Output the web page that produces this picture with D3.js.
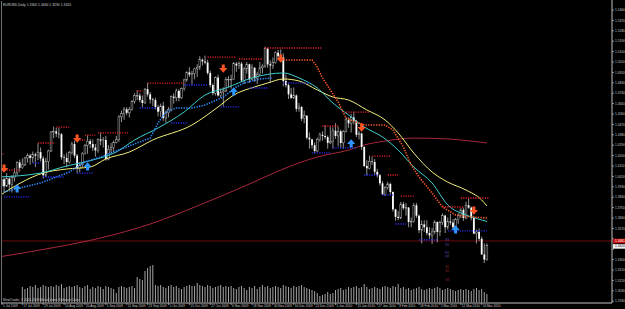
<!DOCTYPE html><html><head><meta charset="UTF-8"><script src="https://d3js.org/d3.v7.min.js"></script><style>
body { margin: 0; background: #000; }
#chart { width: 625px; height: 309px; }
text { font-family: "Liberation Sans", Arial, sans-serif; }
</style></head><body><div id="chart"></div><script>
// daily EURUSD bars, 6 Jul 2009 .. 26 Mar 2010 (bar 0 = 6 Jul)
const opens = [
 1.4020,1.3935,1.3995,1.3935,1.4000,1.3950,1.4010,1.4050,1.4140,1.4095,
 1.4120,1.4180,1.4200,1.4180,1.4210,1.4200,1.4230,1.4175,1.4030,1.4150,
 1.4240,1.4405,1.4410,1.4390,1.4385,1.4185,1.4180,1.4145,1.4225,1.4300,
 1.4200,1.4090,1.4120,1.4215,1.4290,1.4325,1.4300,1.4270,1.4245,1.4340,
 1.4330,1.4335,1.4170,1.4255,1.4270,1.4315,1.4340,1.4535,1.4565,1.4600,
 1.4570,1.4600,1.4670,1.4720,1.4720,1.4680,1.4655,1.4775,1.4730,1.4685,
 1.4680,1.4620,1.4580,1.4630,1.4525,1.4570,1.4600,1.4710,1.4700,1.4760,
 1.4700,1.4780,1.4855,1.4920,1.4900,1.4910,1.4950,1.4965,1.5030,1.5015,
 1.5005,1.4915,1.4810,1.4740,1.4875,1.4720,1.4750,1.4760,1.4860,1.4860,
 1.4860,1.4995,1.4980,1.4995,1.4850,1.4950,1.4990,1.4860,1.4960,1.4870,
 1.4900,1.4960,1.4975,1.5125,1.4990,1.4980,1.5005,1.5090,1.5060,1.5050,
 1.4845,1.4810,1.4730,1.4700,1.4720,1.4605,1.4620,1.4520,1.4545,1.4355,
 1.4340,1.4290,1.4240,1.4340,1.4380,1.4370,1.4360,1.4310,1.4320,1.4415,
 1.4370,1.4410,1.4310,1.4410,1.4510,1.4480,1.4530,1.4500,1.4380,1.4390,
 1.4275,1.4110,1.4090,1.4150,1.4145,1.4060,1.4030,1.3960,1.3865,1.3925,
 1.3955,1.3885,1.3735,1.3670,1.3660,1.3780,1.3745,1.3750,1.3625,1.3630,
 1.3770,1.3680,1.3555,1.3605,1.3580,1.3530,1.3510,1.3540,1.3625,1.3540,
 1.3620,1.3680,1.3580,1.3630,1.3620,1.3580,1.3645,1.3680,1.3730,1.3660,
 1.3770,1.3750,1.3660,1.3525,1.3540,1.3480,1.3345,1.3300];
const highs = [
 1.4035,1.4050,1.4010,1.4050,1.4020,1.4030,1.4090,1.4150,1.4165,1.4175,
 1.4190,1.4220,1.4215,1.4235,1.4225,1.4305,1.4270,1.4195,1.4180,1.4250,
 1.4410,1.4450,1.4440,1.4440,1.4395,1.4210,1.4225,1.4240,1.4320,1.4330,
 1.4215,1.4145,1.4230,1.4300,1.4375,1.4345,1.4340,1.4300,1.4350,1.4398,
 1.4360,1.4370,1.4290,1.4310,1.4330,1.4370,1.4550,1.4590,1.4620,1.4620,
 1.4620,1.4680,1.4740,1.4765,1.4740,1.4720,1.4785,1.4830,1.4750,1.4700,
 1.4700,1.4640,1.4650,1.4665,1.4590,1.4620,1.4720,1.4740,1.4780,1.4775,
 1.4790,1.4865,1.4930,1.4965,1.4935,1.4960,1.4990,1.5060,1.5040,1.5065,
 1.5030,1.4935,1.4825,1.4885,1.4900,1.4780,1.4790,1.4880,1.4890,1.4900,
 1.5010,1.5010,1.5015,1.5010,1.4965,1.5010,1.4995,1.4990,1.4965,1.4925,
 1.5010,1.4990,1.5144,1.5135,1.5025,1.5050,1.5100,1.5115,1.5120,1.5085,
 1.4900,1.4830,1.4785,1.4790,1.4730,1.4655,1.4630,1.4590,1.4550,1.4400,
 1.4345,1.4315,1.4355,1.4400,1.4410,1.4465,1.4375,1.4450,1.4445,1.4480,
 1.4450,1.4425,1.4420,1.4530,1.4530,1.4560,1.4580,1.4510,1.4415,1.4400,
 1.4280,1.4160,1.4200,1.4190,1.4170,1.4085,1.4040,1.3980,1.3935,1.3975,
 1.3965,1.3890,1.3740,1.3720,1.3800,1.3800,1.3790,1.3755,1.3665,1.3790,
 1.3790,1.3690,1.3640,1.3640,1.3640,1.3580,1.3575,1.3640,1.3630,1.3635,
 1.3700,1.3690,1.3665,1.3695,1.3650,1.3660,1.3700,1.3745,1.3750,1.3800,
 1.3830,1.3760,1.3680,1.3560,1.3570,1.3500,1.3440,1.3440];
const lows = [
 1.3885,1.3920,1.3880,1.3930,1.3905,1.3880,1.3975,1.4030,1.4060,1.4085,
 1.4110,1.4140,1.4120,1.4140,1.4100,1.4160,1.4150,1.4000,1.4015,1.4080,
 1.4230,1.4350,1.4360,1.4350,1.4165,1.4125,1.4100,1.4130,1.4210,1.4180,
 1.4045,1.4055,1.4095,1.4210,1.4215,1.4265,1.4240,1.4190,1.4225,1.4290,
 1.4270,1.4155,1.4160,1.4215,1.4230,1.4305,1.4320,1.4490,1.4510,1.4550,
 1.4530,1.4590,1.4650,1.4680,1.4660,1.4620,1.4650,1.4710,1.4650,1.4630,
 1.4600,1.4540,1.4535,1.4500,1.4485,1.4530,1.4580,1.4650,1.4670,1.4670,
 1.4690,1.4760,1.4840,1.4880,1.4815,1.4860,1.4880,1.4940,1.4980,1.4990,
 1.4900,1.4790,1.4720,1.4720,1.4710,1.4700,1.4625,1.4750,1.4790,1.4780,
 1.4855,1.4925,1.4950,1.4840,1.4820,1.4910,1.4830,1.4850,1.4840,1.4820,
 1.4890,1.4910,1.4960,1.4960,1.4830,1.4950,1.4995,1.5025,1.5030,1.4800,
 1.4790,1.4690,1.4690,1.4690,1.4580,1.4580,1.4500,1.4480,1.4340,1.4260,
 1.4260,1.4220,1.4230,1.4320,1.4330,1.4340,1.4260,1.4300,1.4260,1.4345,
 1.4280,1.4265,1.4260,1.4400,1.4440,1.4400,1.4470,1.4360,1.4340,1.4250,
 1.4100,1.4030,1.4080,1.4120,1.4030,1.4010,1.3940,1.3860,1.3850,1.3905,
 1.3860,1.3715,1.3635,1.3640,1.3650,1.3730,1.3680,1.3580,1.3580,1.3620,
 1.3660,1.3530,1.3440,1.3540,1.3510,1.3480,1.3435,1.3520,1.3450,1.3505,
 1.3600,1.3530,1.3560,1.3600,1.3560,1.3570,1.3610,1.3660,1.3635,1.3650,
 1.3740,1.3640,1.3520,1.3440,1.3460,1.3340,1.3270,1.3290];
const closes = [
 1.3935,1.3995,1.3935,1.4000,1.3950,1.4010,1.4050,1.4140,1.4095,1.4120,
 1.4180,1.4200,1.4180,1.4210,1.4200,1.4230,1.4175,1.4030,1.4150,1.4240,
 1.4405,1.4410,1.4390,1.4385,1.4185,1.4180,1.4145,1.4225,1.4300,1.4200,
 1.4090,1.4120,1.4215,1.4290,1.4325,1.4300,1.4270,1.4245,1.4340,1.4330,
 1.4335,1.4170,1.4255,1.4270,1.4315,1.4340,1.4535,1.4565,1.4600,1.4570,
 1.4600,1.4670,1.4720,1.4720,1.4680,1.4655,1.4775,1.4730,1.4685,1.4680,
 1.4620,1.4580,1.4630,1.4525,1.4570,1.4600,1.4710,1.4700,1.4760,1.4700,
 1.4780,1.4855,1.4920,1.4900,1.4910,1.4950,1.4965,1.5030,1.5015,1.5005,
 1.4915,1.4810,1.4740,1.4875,1.4720,1.4750,1.4760,1.4860,1.4860,1.4860,
 1.4995,1.4980,1.4995,1.4850,1.4950,1.4990,1.4860,1.4960,1.4870,1.4900,
 1.4960,1.4975,1.5125,1.4990,1.4980,1.5005,1.5090,1.5060,1.5050,1.4845,
 1.4810,1.4730,1.4700,1.4720,1.4605,1.4620,1.4520,1.4545,1.4355,1.4340,
 1.4290,1.4240,1.4340,1.4380,1.4370,1.4360,1.4310,1.4320,1.4415,1.4370,
 1.4410,1.4310,1.4410,1.4510,1.4480,1.4530,1.4500,1.4380,1.4390,1.4275,
 1.4110,1.4090,1.4150,1.4145,1.4060,1.4030,1.3960,1.3865,1.3925,1.3955,
 1.3885,1.3735,1.3670,1.3660,1.3780,1.3745,1.3750,1.3625,1.3630,1.3770,
 1.3680,1.3555,1.3605,1.3580,1.3530,1.3510,1.3540,1.3625,1.3540,1.3620,
 1.3680,1.3580,1.3630,1.3620,1.3580,1.3645,1.3680,1.3730,1.3660,1.3770,
 1.3750,1.3660,1.3525,1.3540,1.3480,1.3345,1.3300,1.3420];

// tick volume (thousands), starting at bar 9 (17 Jul)
const volStart = 9;
const volumes = [
 15,13,14,16,15,17,14,15,17,16, 15,16,15,17,16,18,14,15,16,15,
 16,17,15,14,16,17,13,15,14,16, 15,13,16,15,14,13,9,15,16,15,
 14,15,16,14,25,23,22,31,34,36, 37,17,16,17,15,14,16,17,15,16,
 14,13,15,16,17,16,16,19,17,16, 15,17,16,14,15,16,17,15,16,15,
 16,14,13,15,16,14,12,15,14,16, 13,15,17,15,16,14,15,16,15,14,
 17,16,15,14,16,15,16,17,15,14, 13,12,11,9,6,7,8,10,8,9,
 12,13,14,12,13,15,14,15,16,14, 15,18,15,13,14,15,14,13,15,16,
 15,14,16,15,18,14,15,13,14,12, 13,14,15,13,12,13,14,13,14,15,
 14,12,13,14,13,12,11,12,13,12, 13,12,11,13,14,12,13,10,8];

// indicator lines: [bar, price]
const yellowMA = [[0,1.3850],[17,1.4049],[26,1.4084],[35,1.4101],[41,1.4171],[50,1.4231],[59,1.4335],[74,1.4465],[84,1.4621],[90,1.4724],[98,1.4794],[103,1.4828],[109,1.4863],[115,1.4846],[122,1.4768],[128,1.4707],[134,1.4681],[141,1.4595],[148,1.4508],[153,1.4396],[159,1.4222],[166,1.4058],[172,1.3971],[179,1.3902],[185,1.3816],[187,1.3764]];
const cyanMA = [[0,1.4015],[16,1.4049],[26,1.4110],[36,1.4162],[45,1.4231],[52,1.4335],[61,1.4439],[71,1.4577],[79,1.4724],[87,1.4785],[97,1.4872],[109,1.4915],[115,1.4872],[122,1.4785],[128,1.4655],[134,1.4551],[140,1.4448],[147,1.4361],[153,1.4248],[159,1.4101],[166,1.3963],[172,1.3773],[179,1.3686],[185,1.3643],[187,1.3630]];
const redMA = [[0,1.3323],[20,1.3400],[39,1.3487],[58,1.3608],[77,1.3773],[96,1.3954],[108,1.4075],[122,1.4188],[134,1.4248],[140,1.4292],[148,1.4326],[159,1.4352],[172,1.4344],[187,1.4309]];
const stopUp = [[2,1.3885],[8,1.3920],[16,1.3963],[22,1.4015],[27,1.4058],[33,1.4145],[39,1.4188],[46,1.4249],[54,1.4318],[58,1.4352],[61,1.4482],[64,1.4577],[68,1.4612],[74,1.4612],[79,1.4638],[86,1.4707],[91,1.4794],[94,1.4828],[100,1.4863],[105,1.4872]];
const stopDown = [[109,1.5027],[120,1.5027],[122,1.4967],[124,1.4872],[127,1.4768],[130,1.4664],[133,1.4525],[140,1.4465],[148,1.4465],[151,1.4422],[155,1.4274],[158,1.4119],[161,1.4015],[166,1.3876],[170,1.3755],[175,1.3686],[181,1.3669],[187,1.3660]];

// fractal levels: [from bar, to bar, price]
const resistance = [[0,2,1.4214],[3,8,1.4075],[15,21,1.4309],[22,27,1.4447],[30,33,1.4335],[33,37,1.4378],[38,50,1.4396],[53,55,1.4759],[57,71,1.4828],[80,91,1.5053],[92,101,1.5036],[102,124,1.5131],[124,130,1.4456],[133,142,1.4577],[143,150,1.4196],[149,153,1.4032],[154,159,1.3850],[170,178,1.3755],[177,188,1.3833]];
const support = [[2,12,1.3842],[13,16,1.4136],[17,25,1.4015],[30,36,1.4049],[54,60,1.4612],[66,72,1.4482],[71,80,1.4811],[85,92,1.4621],[96,103,1.4785],[109,119,1.4828],[120,127,1.4223],[128,137,1.4266],[140,145,1.4032],[147,151,1.3859],[152,156,1.3608],[161,168,1.3470],[172,187,1.3548]];

// signal arrows: [bar, price]
const sellArrows = [[2,1.4084],[30,1.4344],[86,1.4949],[108,1.5036],[139,1.4439],[182,1.3721]];
const buyArrows = [[7,1.3920],[34,1.4110],[90,1.4759],[135,1.4309],[175,1.3565]];

const pivotNames = ['R3','R2','R1','PP','S1','S2','S3'];
const pivotPrices = [1.3472,1.3426,1.3357,1.3322,1.3236,1.3201,1.3124];

const priceTicks = ['1.5460','1.5370','1.5280','1.5190','1.5100','1.5010','1.4920','1.4830','1.4740','1.4650',
 '1.4560','1.4470','1.4380','1.4290','1.4200','1.4110','1.4020','1.3930','1.3840','1.3750',
 '1.3660','1.3570','1.3480','1.3390','1.3300','1.3210','1.3120','1.3030','1.2940'];
const dateLabels = ['17 Jul 2009','29 Jul 2009','10 Aug 2009','20 Aug 2009','1 Sep 2009','11 Sep 2009','23 Sep 2009',
 '5 Oct 2009','15 Oct 2009','27 Oct 2009','6 Nov 2009','18 Nov 2009','30 Nov 2009','10 Dec 2009','22 Dec 2009',
 '5 Jan 2010','15 Jan 2010','27 Jan 2010','8 Feb 2010','18 Feb 2010','2 Mar 2010','12 Mar 2010','24 Mar 2010'];
const dateBars = [9,17,25,33,41,49,57,65,73,81,89,97,105,113,121,129,137,145,153,161,169,177,185];
const lineLevel = 1.3461;

const W = 625, H = 309, axisX = 612, axisY = 303;
const x = d3.scaleLinear().domain([0, 187]).range([-1.17, 486.9]);
const y = d3.scaleLinear().domain([1.5460, 1.2940]).range([10, 301.2]);
const vy = d3.scaleLinear().domain([0, 40]).range([302, 262]);

const svg = d3.select('#chart').append('svg')
    .attr('width', W).attr('height', H)
    .style('background', '#000');

svg.append('defs').append('clipPath').attr('id', 'plot')
    .append('rect').attr('x', 2).attr('y', 2).attr('width', axisX - 2).attr('height', axisY - 2);

const plot = svg.append('g').attr('clip-path', 'url(#plot)');

// volumes
plot.append('g').selectAll('line')
    .data(volumes.map((v, i) => [i + volStart, v]))
    .enter().append('line')
    .attr('x1', d => x(d[0])).attr('x2', d => x(d[0]))
    .attr('y1', vy(0)).attr('y2', d => vy(d[1]))
    .attr('stroke', '#a4a4a4').attr('stroke-width', 1);

// horizontal line
plot.append('line')
    .attr('x1', 0).attr('x2', axisX)
    .attr('y1', y(lineLevel)).attr('y2', y(lineLevel))
    .attr('stroke', '#6e0c0c').attr('stroke-width', 1);

const line = d3.line().x(d => x(d[0])).y(d => y(d[1]));
const smooth = d3.line().x(d => x(d[0])).y(d => y(d[1])).curve(d3.curveMonotoneX);

plot.append('path').attr('d', smooth(redMA))
    .attr('fill', 'none').attr('stroke', '#a8283c').attr('stroke-width', 1);

// candles
const bars = opens.map((o, i) => ({i, o, h: highs[i], l: lows[i], c: closes[i]}));
const candle = plot.append('g').selectAll('g').data(bars).enter().append('g');
candle.append('line')
    .attr('x1', d => x(d.i)).attr('x2', d => x(d.i))
    .attr('y1', d => y(d.h)).attr('y2', d => y(d.l))
    .attr('stroke', '#b8b8b8').attr('stroke-width', 0.8);
candle.append('rect')
    .attr('x', d => x(d.i) - 0.9).attr('width', 1.8)
    .attr('y', d => y(Math.max(d.o, d.c)))
    .attr('height', d => Math.max(0.6, Math.abs(y(d.o) - y(d.c))))
    .attr('fill', d => d.c < d.o ? '#ffffff' : '#000000')
    .attr('stroke', d => d.c < d.o ? 'none' : '#b8b8b8')
    .attr('stroke-width', 0.5);

plot.append('path').attr('d', smooth(yellowMA))
    .attr('fill', 'none').attr('stroke', '#f4f07a').attr('stroke-width', 1);
plot.append('path').attr('d', smooth(cyanMA))
    .attr('fill', 'none').attr('stroke', '#3fcfd0').attr('stroke-width', 1);

plot.append('path').attr('d', line(stopUp))
    .attr('fill', 'none').attr('stroke', '#2c8cff').attr('stroke-width', 1.6)
    .attr('stroke-dasharray', '1.3,1.3');
plot.append('path').attr('d', line(stopDown))
    .attr('fill', 'none').attr('stroke', '#ff5a2a').attr('stroke-width', 1.6)
    .attr('stroke-dasharray', '1.3,1.3');

plot.append('g').selectAll('line').data(resistance).enter().append('line')
    .attr('x1', d => x(d[0])).attr('x2', d => x(d[1]))
    .attr('y1', d => y(d[2])).attr('y2', d => y(d[2]))
    .attr('stroke', '#e0242a').attr('stroke-width', 1.3).attr('stroke-dasharray', '1.2,1.2');
plot.append('g').selectAll('line').data(support).enter().append('line')
    .attr('x1', d => x(d[0])).attr('x2', d => x(d[1]))
    .attr('y1', d => y(d[2])).attr('y2', d => y(d[2]))
    .attr('stroke', '#2a2cf0').attr('stroke-width', 1.3).attr('stroke-dasharray', '1.2,1.2');

// arrows
const downArrow = 'M-1.5,-4.5h3v3.5h2.6l-4.1,4.8l-4.1,-4.8h2.6z';
const upArrow = 'M-1.5,4.5h3v-3.5h2.6l-4.1,-4.8l-4.1,4.8h2.6z';
plot.append('g').selectAll('path').data(sellArrows).enter().append('path')
    .attr('d', downArrow)
    .attr('transform', d => `translate(${x(d[0])},${y(d[1])})`)
    .attr('fill', '#ff5522');
plot.append('g').selectAll('path').data(buyArrows).enter().append('path')
    .attr('d', upArrow)
    .attr('transform', d => `translate(${x(d[0])},${y(d[1])})`)
    .attr('fill', '#2f95ff');

// pivot labels
plot.append('g').selectAll('text').data(pivotNames).enter().append('text')
    .attr('x', x(171)).attr('y', (d, i) => y(pivotPrices[i]) + 1)
    .attr('font-size', 3.2)
    .attr('fill', (d, i) => i < 4 ? '#6a48b0' : '#9a2a2a')
    .text(d => d);

// frame and axes
svg.append('line').attr('x1', 1.5).attr('x2', 1.5).attr('y1', 1).attr('y2', axisY)
    .attr('stroke', '#707070').attr('stroke-width', 1);
svg.append('line').attr('x1', axisX).attr('x2', axisX).attr('y1', 0).attr('y2', axisY)
    .attr('stroke', '#c0c0c0').attr('stroke-width', 1);
svg.append('line').attr('x1', 1).attr('x2', axisX).attr('y1', axisY).attr('y2', axisY)
    .attr('stroke', '#c0c0c0').attr('stroke-width', 1);

// level and bid labels on the price axis
const lvY = y(lineLevel);
const bidY = Math.max(y(closes[closes.length - 1]), lvY + 5.4);

const pAxis = svg.append('g');
priceTicks.forEach(t => {
    const py = y(+t);
    pAxis.append('line').attr('x1', axisX).attr('x2', axisX + 2).attr('y1', py).attr('y2', py)
        .attr('stroke', '#c0c0c0').attr('stroke-width', 0.7);
    if (Math.abs(py - lvY) < 4 || Math.abs(py - bidY) < 4) return;
    pAxis.append('text').attr('x', axisX + 3).attr('y', py + 1.1)
        .attr('font-size', 3.2).attr('fill', '#c8c8c8').text(t);
});

svg.append('rect').attr('x', axisX + 1).attr('y', lvY - 2.3).attr('width', 13).attr('height', 4.6).attr('fill', '#c81010');
svg.append('text').attr('x', axisX + 3).attr('y', lvY + 1.1).attr('font-size', 3.2).attr('fill', '#fff').text(lineLevel.toFixed(4));
svg.append('rect').attr('x', axisX + 1).attr('y', bidY - 2.3).attr('width', 13).attr('height', 4.6).attr('fill', '#f0f0f0');
svg.append('text').attr('x', axisX + 3).attr('y', bidY + 1.1).attr('font-size', 3.2).attr('fill', '#000').text(closes[closes.length - 1].toFixed(4));

const dAxis = svg.append('g');
dAxis.append('line').attr('x1', 2).attr('x2', 2).attr('y1', axisY).attr('y2', axisY + 2)
    .attr('stroke', '#c0c0c0').attr('stroke-width', 0.7);
dAxis.append('text').attr('x', 3).attr('y', axisY + 4.4).attr('font-size', 3.2).attr('fill', '#c8c8c8').text('1 Jul 2009');
dateLabels.forEach((t, i) => {
    const dx = x(dateBars[i]);
    dAxis.append('line').attr('x1', dx).attr('x2', dx).attr('y1', axisY).attr('y2', axisY + 2)
        .attr('stroke', '#c0c0c0').attr('stroke-width', 0.7);
    dAxis.append('text').attr('x', dx + 1).attr('y', axisY + 4.4)
        .attr('font-size', 3.2).attr('fill', '#c8c8c8').text(t);
});

// header and copyright
const last = opens.length - 1;
svg.append('text').attr('x', 3).attr('y', 5.5).attr('font-size', 3.4).attr('fill', '#d0d0d0')
    .text(`EURUSD,Daily  ${opens[last].toFixed(4)} ${highs[last].toFixed(4)} ${lows[last].toFixed(4)} ${closes[last].toFixed(4)}`);
svg.append('text').attr('x', 3).attr('y', 300.5).attr('font-size', 3.2).attr('fill', '#c8c8c8')
    .text('MetaTrader, \u00a9 2001-2009 MetaQuotes Software Corp.');
</script></body></html>
